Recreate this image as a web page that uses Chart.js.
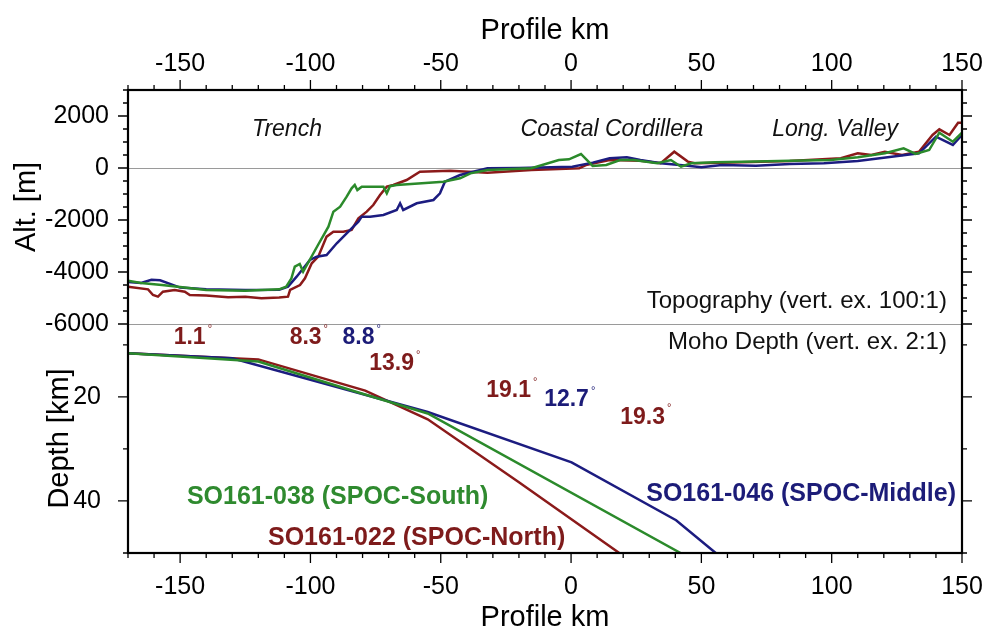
<!DOCTYPE html>
<html>
<head>
<meta charset="utf-8">
<title>Profile: topography and Moho depth</title>
<script src="https://cdn.jsdelivr.net/npm/chart.js@4.4.1/dist/chart.umd.min.js"></script>
<style>
  html, body { margin: 0; padding: 0; background: #fff; }
  #wrap { width: 985px; height: 635px; }
</style>
</head>
<body>
<div id="wrap"><canvas id="profile" width="985" height="635"></canvas></div>
<script>
// --- topography along the profile (km, m) ---
const southTopoKm = [-170, -165, -157, -150, -140, -125, -112, -109.3, -107.3, -106, -104.1, -102.8, -100.3, -97.1, -93.1, -91.2, -88.6, -86.1, -84.2, -83, -82, -80.3, -72, -70.7, -69.5, -66.9, -49, -42.6, -38.6, -32.1, -15.2, -4.7, -0.8, 3.8, 8.3, 13.5, 18.8, 24, 33.1, 38.3, 42.2, 46.1, 55.2, 70.9, 83.9, 99.6, 110, 120.4, 127.6, 132.2, 137.4, 141.3, 146.5, 150];
const southTopoAlt = [-4334, -4420, -4500, -4580, -4690, -4718, -4666, -4562, -4243, -3795, -3692, -3989, -3538, -2961, -2257, -1680, -1488, -1104, -781, -650, -850, -717, -717, -973, -700, -654, -527, -396, -205, -77, -12, 308, 335, 539, 77, 115, 308, 308, 181, 308, 50, 181, 219, 246, 283, 308, 412, 566, 758, 539, 692, 1358, 1012, 1358];

const middleTopoKm = [-170, -165, -161, -157.7, -150, -140, -125, -112, -108.6, -105.3, -100.2, -97.6, -93.8, -89.9, -86.1, -81.6, -80.3, -77.1, -72, -66.9, -65.6, -64.4, -59.2, -52.8, -50.3, -48.4, -42.6, -32.1, -20, 0.5, 8.3, 14.8, 21.4, 26.6, 34.4, 44.8, 50, 57.9, 70.9, 83.9, 97, 110, 123, 133.5, 140, 146.5, 150];
const middleTopoAlt = [-4380, -4420, -4300, -4320, -4600, -4660, -4690, -4680, -4560, -4180, -3538, -3410, -3346, -2896, -2512, -2064, -1872, -1872, -1807, -1615, -1357, -1615, -1357, -1230, -973, -527, -269, -12, 0, 50, 206, 373, 412, 308, 181, 89, 26, 115, 89, 154, 181, 269, 435, 565, 1204, 885, 1270];

const northTopoKm = [-170, -162.3, -160.4, -158.5, -156.6, -152.1, -148.2, -146.3, -140, -131.6, -125, -118.8, -112, -108.6, -107.8, -104, -102.1, -99.5, -97, -93.8, -91.2, -87.4, -84.2, -81.6, -78.4, -75.9, -73.3, -70.7, -68.2, -63.1, -58, -46.4, -32.1, -15.2, 3.1, 5.7, 14.8, 26.6, 34.4, 39.6, 44.8, 47.4, 57.9, 83.9, 103.5, 110, 115.2, 120.4, 127, 133.5, 138.7, 141.3, 145.2, 148.5, 150];
const northTopoAlt = [-4564, -4666, -4885, -4949, -4757, -4692, -4757, -4885, -4900, -4974, -4950, -5012, -4980, -4949, -4692, -4500, -4243, -3666, -3410, -2640, -2449, -2449, -2384, -1935, -1680, -1423, -1038, -717, -654, -462, -142, -103, -180, -77, -12, 115, 308, 283, 181, 627, 246, 181, 206, 269, 373, 566, 500, 627, 500, 627, 1270, 1489, 1270, 1743, 1743];

// --- Moho depth along the profile (km, km) ---
const southMohoKm = [-170, -120, -80, -55, 42];
const southMohoDepth = [11.6, 13.2, 19.4, 23.2, 50];
const middleMohoKm = [-170, -130, -55, 0.2, 40.3, 55.5];
const middleMohoDepth = [11.6, 12.6, 22.9, 32.6, 43.7, 50];
const northMohoKm = [-170, -120, -79, -55, -20, 18.5];
const northMohoDepth = [11.6, 12.8, 18.8, 24.3, 36.4, 50];

// dip angles written along the Moho lines
const dipAngles = ["1.1", "8.3", "8.8", "13.9", "19.1", "12.7", "19.3"];
const dipProfile = ["north", "north", "middle", "north", "north", "middle", "north"];

const FONT = "'Liberation Sans', Arial, Helvetica, sans-serif";
const RED = "#8b1a1a", GREEN = "#2b8a2b", BLUE = "#1c1c80";
const TEXT_COL = { north: "#7e1b1b", middle: "#1c1c78", south: "#2f8a2f" };

Chart.defaults.font.family = FONT;
Chart.defaults.color = "#000";

function pairs(xs, ys) {
  return xs.map((x, i) => ({ x: x, y: ys[i] }));
}

function profileLine(label, xs, ys, color, yAxisID) {
  return {
    label: label,
    data: pairs(xs, ys),
    borderColor: color,
    backgroundColor: color,
    borderWidth: 2.5,
    pointRadius: 0,
    tension: 0,
    fill: false,
    xAxisID: "x",
    yAxisID: yAxisID
  };
}

// where the text annotations sit (data coordinates of each panel)
const dipPlaces = [[-145, 8.7], [-100.5, 8.7], [-80.2, 8.7], [-67.5, 13.7], [-22.6, 18.9], [-0.4, 20.6], [28.8, 23.9]];
const notes = [
  { text: "Trench", axis: "y", x: -109, y: 1460, font: "italic 23px", color: "#111", align: "center" },
  { text: "Coastal Cordillera", axis: "y", x: 15.7, y: 1460, font: "italic 23px", color: "#111", align: "center" },
  { text: "Long. Valley", axis: "y", x: 101.3, y: 1460, font: "italic 23px", color: "#111", align: "center" },
  { text: "Topography (vert. ex. 100:1)", axis: "y", x: 144.2, y: -5142, font: "24px", color: "#111", align: "right" },
  { text: "Moho Depth (vert. ex. 2:1)", axis: "y2", x: 144.2, y: 9.5, font: "24px", color: "#111", align: "right" },
  { text: "SO161-038 (SPOC-South)", axis: "y2", x: -147.4, y: 39.3, font: "bold 25px", color: TEXT_COL.south, align: "left" },
  { text: "SO161-022 (SPOC-North)", axis: "y2", x: -116.3, y: 47.2, font: "bold 25px", color: TEXT_COL.north, align: "left" },
  { text: "SO161-046 (SPOC-Middle)", axis: "y2", x: 147.7, y: 38.6, font: "bold 25px", color: TEXT_COL.middle, align: "right" }
];

// GMT style frame with outward ticks
const tickMarks = [
  { axis: "x", sides: ["top", "bottom"], from: -170, to: 150, minor: 10, major: 50 },
  { axis: "y", sides: ["left", "right"], from: -6000, to: 3000, minor: 500, major: 2000 },
  { axis: "y2", sides: ["left", "right"], from: 10, to: 50, minor: 10, major: 20 }
];

const framePlugin = {
  id: "frame",
  afterDraw(chart) {
    const ctx = chart.ctx;
    const a = chart.chartArea;
    ctx.save();
    ctx.strokeStyle = "#000";
    ctx.lineWidth = 1.3;
    tickMarks.forEach(t => {
      const s = chart.scales[t.axis];
      for (let v = t.from; v <= t.to + 1e-9; v += t.minor) {
        const isMajor = Math.abs(v % t.major) < 1e-9;
        const len = isMajor ? 10 : 5;
        const p = s.getPixelForValue(v);
        ctx.beginPath();
        t.sides.forEach(side => {
          if (side === "top") { ctx.moveTo(p, a.top); ctx.lineTo(p, a.top - len); }
          if (side === "bottom") { ctx.moveTo(p, a.bottom); ctx.lineTo(p, a.bottom + len); }
          if (side === "left") { ctx.moveTo(a.left, p); ctx.lineTo(a.left - len, p); }
          if (side === "right") { ctx.moveTo(a.right, p); ctx.lineTo(a.right + len, p); }
        });
        ctx.stroke();
      }
    });
    ctx.lineWidth = 2.2;
    ctx.strokeRect(a.left, a.top, a.right - a.left, a.bottom - a.top);
    ctx.restore();
  }
};

const labelPlugin = {
  id: "labels",
  afterDatasetsDraw(chart) {
    const ctx = chart.ctx;
    const xs = chart.scales.x;
    ctx.save();
    ctx.textBaseline = "middle";
    notes.forEach(n => {
      ctx.font = n.font + " " + FONT;
      ctx.fillStyle = n.color;
      ctx.textAlign = n.align;
      ctx.fillText(n.text, xs.getPixelForValue(n.x), chart.scales[n.axis].getPixelForValue(n.y));
    });
    // dip angles with a small degree sign
    const ys = chart.scales.y2;
    dipAngles.forEach((txt, i) => {
      const cx = xs.getPixelForValue(dipPlaces[i][0]);
      const cy = ys.getPixelForValue(dipPlaces[i][1]);
      ctx.font = "bold 23px " + FONT;
      const w = ctx.measureText(txt).width;
      const left = cx - (w + 7) / 2;
      ctx.fillStyle = TEXT_COL[dipProfile[i]];
      ctx.textAlign = "left";
      ctx.fillText(txt, left, cy);
      ctx.font = "11px " + FONT;
      ctx.fillText("\u00b0", left + w + 2, cy - 9);
    });
    ctx.restore();
  }
};

const tickFont = { size: 25 };
const titleFont = { size: 29 };
const noPad = s => { s.paddingLeft = 0; s.paddingRight = 0; s.paddingTop = 0; s.paddingBottom = 0; };

new Chart(document.getElementById("profile"), {
  type: "line",
  data: {
    datasets: [
      profileLine("SO161-038 topography", southTopoKm, southTopoAlt, GREEN, "y"),
      profileLine("SO161-046 topography", middleTopoKm, middleTopoAlt, BLUE, "y"),
      profileLine("SO161-022 topography", northTopoKm, northTopoAlt, RED, "y"),
      profileLine("SO161-038 Moho", southMohoKm, southMohoDepth, GREEN, "y2"),
      profileLine("SO161-046 Moho", middleMohoKm, middleMohoDepth, BLUE, "y2"),
      profileLine("SO161-022 Moho", northMohoKm, northMohoDepth, RED, "y2")
    ]
  },
  options: {
    responsive: false,
    animation: false,
    devicePixelRatio: 1,
    layout: { padding: { top: 0, right: 23, bottom: 0, left: 0 } },
    plugins: { legend: { display: false }, tooltip: { enabled: false } },
    scales: {
      x: {
        type: "linear", position: "bottom", min: -170, max: 150,
        grid: { display: false }, border: { display: false },
        ticks: { stepSize: 50, includeBounds: false, autoSkip: false, maxRotation: 0, padding: 11, font: tickFont, color: "#000", callback: v => String(v) },
        title: { display: true, text: "Profile km", font: titleFont, color: "#000", padding: { top: 0, bottom: 0 } },
        afterFit: s => { s.height = 82; noPad(s); }
      },
      x2: {
        type: "linear", position: "top", min: -170, max: 150, display: true,
        grid: { display: false }, border: { display: false },
        ticks: { stepSize: 50, includeBounds: false, autoSkip: false, maxRotation: 0, padding: 3, font: tickFont, color: "#000", callback: v => String(v) },
        title: { display: true, text: "Profile km", font: titleFont, color: "#000", padding: { top: 14, bottom: 0 } },
        afterFit: s => { s.height = 90; noPad(s); }
      },
      y2: {
        type: "linear", position: "left", stack: "panels", stackWeight: 229, weight: 0,
        min: 6, max: 50, reverse: true,
        grid: { display: false }, border: { display: false },
        ticks: { stepSize: 20, includeBounds: false, padding: 19, font: tickFont, color: "#000", callback: v => String(v) },
        title: { display: true, text: "Depth [km]", font: titleFont, color: "#000", padding: { top: 43, bottom: 0 } },
        afterFit: s => { s.width = 128; noPad(s); }
      },
      y: {
        type: "linear", position: "left", stack: "panels", stackWeight: 234, weight: 1,
        min: -6000, max: 3000,
        grid: {
          display: true, drawTicks: false, drawOnChartArea: true, lineWidth: 1,
          color: c => (c.tick && (c.tick.value === 0 || c.tick.value === -6000)) ? "#9a9a9a" : "rgba(0,0,0,0)"
        },
        border: { display: false },
        ticks: { stepSize: 1000, padding: 19, font: tickFont, color: "#000", callback: v => (v % 2000 === 0 ? String(v) : "") },
        title: { display: true, text: "Alt. [m]", font: titleFont, color: "#000", padding: { top: 10, bottom: 0 } },
        afterFit: s => { s.width = 128; noPad(s); }
      }
    }
  },
  plugins: [labelPlugin, framePlugin]
});
</script>
</body>
</html>
